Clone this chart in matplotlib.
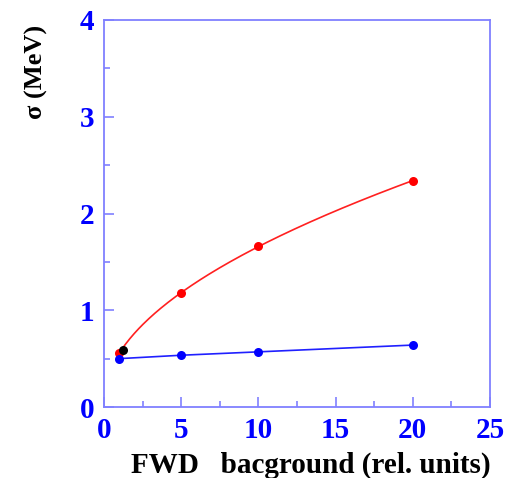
import numpy as np
import matplotlib.pyplot as plt
from matplotlib.ticker import MultipleLocator

# data
bkg = [1, 5, 10, 20]
sigma_red = [0.56, 1.18, 1.66, 2.34]
sigma_blue = [0.50, 0.535, 0.57, 0.64]
black_x = [1.2]
black_y = [0.59]

plt.rcParams['font.family'] = ['Liberation Serif', 'DejaVu Serif']
plt.rcParams['font.weight'] = 'bold'

fig = plt.figure(figsize=(5.14, 4.78), dpi=100)
ax = fig.add_axes([104 / 514, 1 - 407 / 478, 386 / 514, 387 / 478])

# smooth curve for the red points (quadratic in sqrt(x))
coef = np.polyfit(np.sqrt(bkg), sigma_red, 2)
xs = np.linspace(bkg[0], bkg[-1], 200)
ax.plot(xs, np.polyval(coef, np.sqrt(xs)), color='#ff2020', lw=1.2)
ax.plot(bkg, sigma_red, 'o', color='#ff0000', ms=6.5, mec='none')

ax.plot(bkg, sigma_blue, '-', color='#2020ff', lw=1.2)
ax.plot(bkg, sigma_blue, 'o', color='#0000ff', ms=6.5, mec='none')

ax.plot(black_x, black_y, 'o', color='black', ms=6.5, mec='none')

ax.set_xlim(0, 25)
ax.set_ylim(0, 4)
ax.xaxis.set_major_locator(MultipleLocator(5))
ax.xaxis.set_minor_locator(MultipleLocator(2.5))
ax.yaxis.set_major_locator(MultipleLocator(1))
ax.yaxis.set_minor_locator(MultipleLocator(0.5))

spine_col = '#8080ff'
for s in ax.spines.values():
    s.set_color(spine_col)
    s.set_linewidth(1.3)
ax.tick_params(which='both', direction='in', color=spine_col, width=1.2,
               top=False, right=False)
ax.tick_params(which='major', length=7, labelsize=21, labelcolor='#0000ff', pad=7)
ax.tick_params(which='minor', length=4)
for lab in ax.get_xticklabels() + ax.get_yticklabels():
    lab.set_fontweight('bold')

ax.set_xlabel('FWD   bacground (rel. units)', fontsize=21, fontweight='bold')
ax.xaxis.set_label_coords(0.535, -0.115)
fig.text(36 / 514, 1 - 72 / 478, 'σ (MeV)', rotation=90, fontsize=19,
         fontweight='bold', ha='center', va='center')

fig.savefig('out.png', dpi=100)
